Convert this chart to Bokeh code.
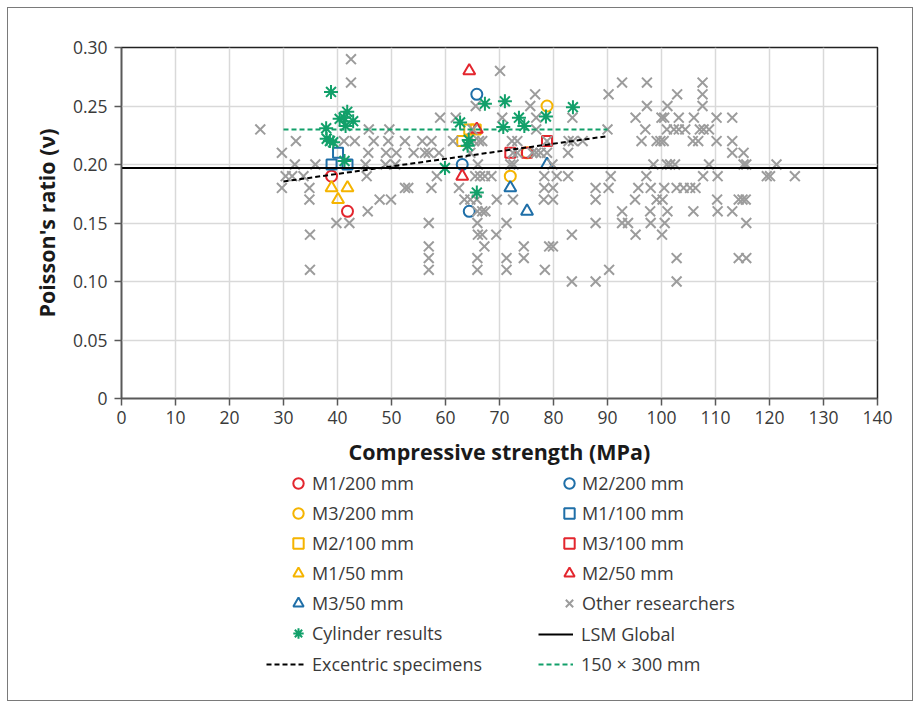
from bokeh.plotting import figure
from bokeh.layouts import column
from bokeh.models import Range1d, FixedTicker, Legend, LegendItem, NumeralTickFormatter
from bokeh.embed import file_html
from bokeh.resources import INLINE

FONT = "Open Sans"
TEXT = "#3a3a3a"
RED = "#e3262e"
BLUE = "#1f6fa8"
YELLOW = "#f5b400"
GREEN = "#12a06a"
GRAY = "#9c9c9c"

strength_ticks = list(range(0, 141, 10))
ratio_ticks = [0, 0.05, 0.10, 0.15, 0.20, 0.25, 0.30]

# Test series: compressive strength (MPa) and Poisson's ratio
m1_200_strength = [38.9, 41.85]
m1_200_ratio = [0.19, 0.16]
m2_200_strength = [65.8, 63.1, 64.4]
m2_200_ratio = [0.26, 0.20, 0.16]
m3_200_strength = [78.8, 72.0, 75.1]
m3_200_ratio = [0.25, 0.19, 0.21]
m1_100_strength = [38.9, 40.1, 41.85]
m1_100_ratio = [0.20, 0.21, 0.20]
m2_100_strength = [63.1, 64.4, 65.6]
m2_100_ratio = [0.22, 0.23, 0.23]
m3_100_strength = [72.0, 75.1, 78.8]
m3_100_ratio = [0.21, 0.21, 0.22]
m1_50_strength = [38.9, 40.1, 41.85]
m1_50_ratio = [0.18, 0.17, 0.18]
m2_50_strength = [64.4, 65.8, 63.1]
m2_50_ratio = [0.28, 0.23, 0.19]
m3_50_strength = [78.8, 72.0, 75.1]
m3_50_ratio = [0.20, 0.18, 0.16]

# Results from the literature
other_strength = [
    42.5,
    70.1,
    42.5, 92.7, 97.3, 107.6,
    76.6, 90.2, 102.9, 107.6,
    65.6, 75.7, 97.3, 101.1, 107.6,
    59.0, 61.9, 70.5, 76.8, 83.5, 95.2, 100.0, 100.5, 103.2, 106.0, 110.2, 113.1,
    25.7, 45.8, 49.6, 65.0, 76.8, 90.0, 97.0, 101.0, 102.3, 103.2, 104.4, 107.1, 107.8, 108.8,
    32.3, 41.2, 43.2, 46.7, 49.4, 52.5, 55.7, 57.4, 61.4, 65.3, 66.2, 66.8, 72.3, 73.3, 78.8,
    82.8, 83.6, 85.4, 96.3, 99.1, 99.8, 100.4, 105.8, 106.8, 110.2, 113.1,
    29.7, 45.7, 49.0, 50.9, 54.1, 56.2, 56.9, 58.8, 64.6, 72.5, 73.3, 76.1, 76.8, 77.6, 78.8,
    82.7, 113.1, 115.2,
    32.1, 35.9, 45.2, 48.9, 50.7, 66.0, 72.0, 72.6, 79.8, 98.5, 101.0, 101.6, 102.5, 108.8,
    115.2, 115.7, 121.3,
    30.4, 31.6, 33.7, 45.4, 58.4, 65.5, 66.4, 67.3, 68.5, 78.3, 80.6, 82.7, 90.6, 97.2, 107.7,
    110.4, 119.5, 120.1, 124.7,
    29.7, 34.8, 52.5, 53.1, 57.4, 62.5, 78.3, 79.9, 87.8, 90.2, 95.7, 98.0, 100.5, 102.8, 104.1,
    105.3, 106.3,
    34.8, 47.8, 49.9, 63.5, 64.6, 65.8, 69.5, 72.5, 78.2, 79.9, 87.8, 95.1, 99.1, 100.2, 110.3,
    114.3, 115.0, 115.6,
    45.6, 65.9, 66.8, 67.4, 92.7, 97.9, 101.1, 105.9, 110.4, 113.1,
    39.8, 42.2, 56.9, 65.9, 71.3, 87.8, 92.7, 93.8, 98.0, 100.6, 115.7,
    34.9, 66.0, 66.8, 69.4, 83.4, 95.2, 100.1,
    56.9, 67.2, 74.5, 79.2, 79.9,
    56.9, 65.9, 71.3, 74.5, 102.8, 114.3, 115.7,
    34.9, 56.9, 65.9, 71.3, 78.4, 90.3,
    83.4, 87.8, 102.8,
]
other_ratio = [
    0.29,
    0.28,
    0.27, 0.27, 0.27, 0.27,
    0.26, 0.26, 0.26, 0.26,
    0.25, 0.25, 0.25, 0.25, 0.25,
    0.24, 0.24, 0.24, 0.24, 0.24, 0.24, 0.24, 0.24, 0.24, 0.24, 0.24, 0.24,
    0.23, 0.23, 0.23, 0.23, 0.23, 0.23, 0.23, 0.23, 0.23, 0.23, 0.23, 0.23, 0.23, 0.23,
    0.22, 0.22, 0.22, 0.22, 0.22, 0.22, 0.22, 0.22, 0.22, 0.22, 0.22, 0.22, 0.22, 0.22, 0.22,
    0.22, 0.22, 0.22, 0.22, 0.22, 0.22, 0.22, 0.22, 0.22, 0.22, 0.22,
    0.21, 0.21, 0.21, 0.21, 0.21, 0.21, 0.21, 0.21, 0.21, 0.21, 0.21, 0.21, 0.21, 0.21, 0.21,
    0.21, 0.21, 0.21,
    0.20, 0.20, 0.20, 0.20, 0.20, 0.20, 0.20, 0.20, 0.20, 0.20, 0.20, 0.20, 0.20, 0.20,
    0.20, 0.20, 0.20,
    0.19, 0.19, 0.19, 0.19, 0.19, 0.19, 0.19, 0.19, 0.19, 0.19, 0.19, 0.19, 0.19, 0.19, 0.19,
    0.19, 0.19, 0.19, 0.19,
    0.18, 0.18, 0.18, 0.18, 0.18, 0.18, 0.18, 0.18, 0.18, 0.18, 0.18, 0.18, 0.18, 0.18, 0.18,
    0.18, 0.18,
    0.17, 0.17, 0.17, 0.17, 0.17, 0.17, 0.17, 0.17, 0.17, 0.17, 0.17, 0.17, 0.17, 0.17, 0.17,
    0.17, 0.17, 0.17,
    0.16, 0.16, 0.16, 0.16, 0.16, 0.16, 0.16, 0.16, 0.16, 0.16,
    0.15, 0.15, 0.15, 0.15, 0.15, 0.15, 0.15, 0.15, 0.15, 0.15, 0.15,
    0.14, 0.14, 0.14, 0.14, 0.14, 0.14, 0.14,
    0.13, 0.13, 0.13, 0.13, 0.13,
    0.12, 0.12, 0.12, 0.12, 0.12, 0.12, 0.12,
    0.11, 0.11, 0.11, 0.11, 0.11, 0.11,
    0.10, 0.10, 0.10,
]

# Cylinder tests
cylinder_strength = [38.8, 41.8, 40.4, 41.2, 42.9, 41.5, 37.9, 38.0, 38.6, 39.2, 41.3,
                     59.9, 62.7, 64.3, 64.1, 65.8, 67.3, 71.0, 70.7, 73.6, 74.6, 78.6, 83.6]
cylinder_ratio = [0.262, 0.245, 0.239, 0.240, 0.237, 0.233, 0.231, 0.222, 0.220, 0.219, 0.203,
                  0.197, 0.236, 0.221, 0.216, 0.176, 0.252, 0.254, 0.232, 0.240, 0.233, 0.241, 0.249]

# Fitted lines
lsm_global_strength = [0, 140]
lsm_global_ratio = [0.197, 0.197]
excentric_strength = [30, 90]
excentric_ratio = [0.1855, 0.2242]
cyl_150x300_strength = [30, 90]
cyl_150x300_ratio = [0.230, 0.230]

# Marker / line styles shared by the chart and its key
STYLES = {
    "M1/200 mm": dict(marker="circle", color=RED, size=11),
    "M2/200 mm": dict(marker="circle", color=BLUE, size=11),
    "M3/200 mm": dict(marker="circle", color=YELLOW, size=11),
    "M1/100 mm": dict(marker="square", color=BLUE, size=10),
    "M2/100 mm": dict(marker="square", color=YELLOW, size=10),
    "M3/100 mm": dict(marker="square", color=RED, size=10),
    "M1/50 mm": dict(marker="triangle", color=YELLOW, size=12),
    "M2/50 mm": dict(marker="triangle", color=RED, size=12),
    "M3/50 mm": dict(marker="triangle", color=BLUE, size=12),
    "Other researchers": dict(marker="x", color=GRAY, size=14),
    "Cylinder results": dict(marker="asterisk", color=GREEN, size=14),
}
LINES = {
    "LSM Global": dict(line_color="black", line_width=2),
    "Excentric specimens": dict(line_color="black", line_width=2, line_dash="5 3"),
    "150 × 300 mm": dict(line_color=GREEN, line_width=2, line_dash="5 3"),
}

SERIES = {
    "M1/200 mm": (m1_200_strength, m1_200_ratio),
    "M2/200 mm": (m2_200_strength, m2_200_ratio),
    "M3/200 mm": (m3_200_strength, m3_200_ratio),
    "M1/100 mm": (m1_100_strength, m1_100_ratio),
    "M2/100 mm": (m2_100_strength, m2_100_ratio),
    "M3/100 mm": (m3_100_strength, m3_100_ratio),
    "M1/50 mm": (m1_50_strength, m1_50_ratio),
    "M2/50 mm": (m2_50_strength, m2_50_ratio),
    "M3/50 mm": (m3_50_strength, m3_50_ratio),
    "Other researchers": (other_strength, other_ratio),
    "Cylinder results": (cylinder_strength, cylinder_ratio),
}
LINE_SERIES = {
    "LSM Global": (lsm_global_strength, lsm_global_ratio),
    "Excentric specimens": (excentric_strength, excentric_ratio),
    "150 × 300 mm": (cyl_150x300_strength, cyl_150x300_ratio),
}

p = figure(width=904, height=462, output_backend="svg", toolbar_location=None,
           x_range=Range1d(0, 140), y_range=Range1d(0, 0.30),
           min_border_left=113, min_border_right=35, min_border_top=39, min_border_bottom=72,
           background_fill_color="white", border_fill_color="white")

p.outline_line_color = "#222222"
p.outline_line_width = 1.5

p.xgrid.grid_line_color = "#d9d9d9"
p.ygrid.grid_line_color = "#d9d9d9"
p.xgrid.grid_line_width = 1.5
p.ygrid.grid_line_width = 1.5

p.xaxis.ticker = FixedTicker(ticks=strength_ticks)
p.yaxis.ticker = FixedTicker(ticks=ratio_ticks)
p.yaxis.formatter = NumeralTickFormatter(format="0.00")
p.yaxis.major_label_overrides = {0: "0"}
p.xaxis.axis_label = "Compressive strength (MPa)"
p.yaxis.axis_label = "Poisson's ratio (ν)"
for ax in (p.xaxis[0], p.yaxis[0]):
    ax.axis_line_color = "#595959"
    ax.axis_line_width = 1.5
    ax.major_tick_line_color = "#595959"
    ax.major_tick_line_width = 1.5
    ax.major_tick_out = 7
    ax.major_tick_in = 0
    ax.minor_tick_line_color = None
    ax.major_label_text_font = FONT
    ax.major_label_text_font_size = "17.5px"
    ax.major_label_text_color = TEXT
    ax.axis_label_text_font = FONT
    ax.axis_label_text_font_size = "21.5px"
    ax.axis_label_text_font_style = "bold"
    ax.axis_label_text_color = "#1a1a1a"
p.xaxis.major_label_standoff = 5
p.xaxis.axis_label_standoff = 10
p.yaxis.major_label_standoff = 7
p.yaxis.axis_label_standoff = 9


def marks(fig, name):
    st = STYLES[name]
    xs, ys = SERIES[name]
    return fig.scatter(xs, ys, marker=st["marker"], size=st["size"], line_color=st["color"],
                       fill_color=None, line_width=2)


def trace(fig, name):
    xs, ys = LINE_SERIES[name]
    return fig.line(xs, ys, **LINES[name])


# Drawn in series order so later series sit on top
for name in SERIES:
    marks(p, name)
for name in LINE_SERIES:
    trace(p, name)

# Key panel below the chart; its view range lies outside the data, so only the
# legend swatches of these renderers are visible
k = figure(width=904, height=230, output_backend="svg", toolbar_location=None,
           x_range=Range1d(-2, -1), y_range=Range1d(-2, -1),
           x_axis_type=None, y_axis_type=None,
           min_border_left=0, min_border_right=0, min_border_top=0, min_border_bottom=0,
           outline_line_color=None, background_fill_color="white", border_fill_color="white")
k.grid.visible = False

key_renderers = {}
for name in SERIES:
    key_renderers[name] = marks(k, name)
for name in LINE_SERIES:
    key_renderers[name] = trace(k, name)


def key(names, glyph_w, standoff, loc):
    lg = Legend(items=[LegendItem(label=n, renderers=[key_renderers[n]]) for n in names],
                location=loc, orientation="vertical",
                glyph_width=glyph_w, glyph_height=26, label_height=26,
                label_standoff=standoff, spacing=4, padding=0, margin=0,
                border_line_color=None, background_fill_alpha=0,
                label_text_font=FONT, label_text_font_size="18px",
                label_text_color=TEXT)
    k.add_layout(lg, "center")


key(["M1/200 mm", "M3/200 mm", "M2/100 mm", "M1/50 mm", "M3/50 mm", "Cylinder results"],
    26, 1, (164, 54))
key(["Excentric specimens"], 38, 8, (145, 23))
key(["M2/200 mm", "M1/100 mm", "M3/100 mm", "M2/50 mm", "Other researchers"],
    26, 0, (435, 84))
key(["LSM Global", "150 × 300 mm"], 35, 8, (417, 23))

layout = column(p, k, spacing=0)
layout.styles = {"margin-left": "7px", "margin-top": "7px", "border": "1px solid #7a7a7a"}

open("out.html", "w").write(file_html(layout, INLINE))
